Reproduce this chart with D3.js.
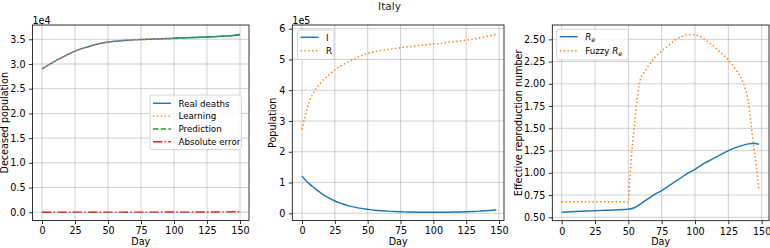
<!DOCTYPE html>
<html><head><meta charset="utf-8">
<script src="https://cdn.jsdelivr.net/npm/d3@7"></script>
<style>body{margin:0;background:#fff}svg{display:block;font-family:"DejaVu Sans",sans-serif}</style>
</head><body><svg id="c" width="770" height="248"></svg>
<script>
// ---- data ----
const title = "Italy";
const deathDays = [0,5,10,15,20,25,30,35,40,45,50,55,60,65,70,75,80,85,90,95,100,105,110,115,120,125,130,135,140,145,150];
const realDeaths = [29000,29800,30600,31300,32000,32600,33100,33500,33900,34200,34450,34600,34700,34800,34880,34950,35000,35050,35100,35150,35200,35300,35330,35360,35400,35450,35520,35600,35680,35780,35950];
const learnDays = [0,5,10,15,20,25,30,35,40,45,50,55,60,65,70,75,80,85,90,95,100];
const learning = [29000,29800,30600,31300,32000,32600,33100,33500,33900,34200,34450,34600,34700,34800,34880,34950,35000,35050,35100,35150,35200];
const predDays = [100,105,110,115,120,125,130,135,140,145,150];
const prediction = [35200,35260,35310,35360,35410,35470,35540,35620,35700,35800,35980];
const absError = [20,25,30,28,25,30,35,30,28,25,30,32,30,28,30,32,30,35,40,45,50,40,35,45,55,60,70,80,90,110,130];

const popDays = [0,2,4,6,8,10,15,20,25,30,35,40,45,50,55,60,65,70,75,80,85,90,95,100,105,110,115,120,125,130,135,140,145,148];
const infected = [1.21e5,1.11e5,1.02e5,0.94e5,0.87e5,0.80e5,0.64e5,0.51e5,0.40e5,0.32e5,0.25e5,0.20e5,0.16e5,0.13e5,0.10e5,0.085e5,0.07e5,0.06e5,0.05e5,0.045e5,0.04e5,0.035e5,0.033e5,0.032e5,0.033e5,0.035e5,0.04e5,0.045e5,0.052e5,0.06e5,0.07e5,0.085e5,0.10e5,0.115e5];
const removed = [2.72e5,3.10e5,3.42e5,3.68e5,3.86e5,4.00e5,4.28e5,4.48e5,4.66e5,4.80e5,4.92e5,5.02e5,5.12e5,5.20e5,5.25e5,5.29e5,5.32e5,5.35e5,5.38e5,5.41e5,5.43e5,5.46e5,5.48e5,5.50e5,5.52e5,5.55e5,5.57e5,5.60e5,5.63e5,5.66e5,5.70e5,5.74e5,5.79e5,5.82e5];

const reDays = [0,10,20,30,40,50,55,60,65,70,75,80,85,90,95,100,105,110,115,120,125,130,135,140,143,145,148];
const re = [0.558,0.565,0.572,0.578,0.583,0.59,0.61,0.66,0.71,0.76,0.80,0.85,0.90,0.95,1.0,1.04,1.09,1.13,1.17,1.21,1.25,1.28,1.305,1.325,1.33,1.33,1.32];
const fuzzyDays = [0,10,20,30,40,50,51,53,55,57,59,62,65,70,75,80,85,90,95,100,105,110,115,120,125,130,135,138,140,142,144,146,148];
const fuzzyRe = [0.675,0.675,0.675,0.675,0.675,0.675,0.9,1.3,1.6,1.88,2.05,2.13,2.2,2.3,2.37,2.43,2.49,2.53,2.555,2.55,2.52,2.47,2.41,2.34,2.27,2.17,2.05,1.93,1.8,1.55,1.3,1.07,0.8];

const xTicks = [0,25,50,75,100,125,150];
const yTicks1 = [0,5000,10000,15000,20000,25000,30000,35000];
const yTicks2 = [0,1e5,2e5,3e5,4e5,5e5,6e5];
const yTicks3 = [0.5,0.75,1.0,1.25,1.5,1.75,2.0,2.25,2.5];

// ---- drawing ----
const svg = d3.select("#c");
const C = {blue:"#1f77b4", orange:"#ff7f0e", green:"#2ca02c", red:"#d62728"};
const LW = 1.45;
const styles = {
  solid: null,
  dotted: "1.45,2.4",
  dashed: "5.4,2.3",
  dashdot: "9.3,2.3,1.45,2.3"
};

svg.append("text").attr("x",389.5).attr("y",9.5).attr("text-anchor","middle")
  .attr("font-size",10.5).attr("fill","#262626").text(title);

function panel(cfg){
  const x = d3.scaleLinear().domain(cfg.xd).range([cfg.l,cfg.r]);
  const y = d3.scaleLinear().domain(cfg.yd).range([cfg.b,cfg.t]);
  const g = svg.append("g");
  // grid
  g.append("g").selectAll("line").data(xTicks).join("line")
    .attr("x1",d=>x(d)).attr("x2",d=>x(d)).attr("y1",cfg.t).attr("y2",cfg.b)
    .attr("stroke","#b0b0b0").attr("stroke-opacity",0.75).attr("stroke-width",0.8);
  g.append("g").selectAll("line").data(cfg.yt).join("line")
    .attr("y1",d=>y(d)).attr("y2",d=>y(d)).attr("x1",cfg.l).attr("x2",cfg.r)
    .attr("stroke","#b0b0b0").attr("stroke-opacity",0.75).attr("stroke-width",0.8);
  // axes
  const xa = g.append("g").attr("transform",`translate(0,${cfg.b})`)
    .call(d3.axisBottom(x).tickValues(xTicks).tickSize(3.5).tickPadding(3.5).tickFormat(d3.format("d")));
  const ya = g.append("g").attr("transform",`translate(${cfg.l},0)`)
    .call(d3.axisLeft(y).tickValues(cfg.yt).tickSize(3.5).tickPadding(3.5).tickFormat(cfg.fmt));
  [xa,ya].forEach(a=>{
    a.select(".domain").remove();
    a.selectAll("line").attr("stroke","#000").attr("stroke-width",0.8);
    a.selectAll("text").attr("font-size",9.6).attr("fill","#000").attr("font-family","DejaVu Sans");
  });
  // lines
  const clip = "clip"+cfg.l.toFixed(0);
  svg.append("clipPath").attr("id",clip).append("rect")
    .attr("x",cfg.l).attr("y",cfg.t).attr("width",cfg.r-cfg.l).attr("height",cfg.b-cfg.t);
  const lg = g.append("g").attr("clip-path",`url(#${clip})`);
  cfg.series.forEach(s=>{
    const line = d3.line().x((d,i)=>x(s.days[i])).y(d=>y(d)).curve(d3.curveMonotoneX);
    lg.append("path").attr("d",line(s.vals)).attr("fill","none")
      .attr("stroke",s.color).attr("stroke-width",LW)
      .attr("stroke-dasharray",styles[s.style]);
  });
  // frame
  g.append("rect").attr("x",cfg.l).attr("y",cfg.t).attr("width",cfg.r-cfg.l).attr("height",cfg.b-cfg.t)
    .attr("fill","none").attr("stroke","#000").attr("stroke-width",0.8);
  // labels
  g.append("text").attr("x",(cfg.l+cfg.r)/2).attr("y",245).attr("text-anchor","middle")
    .attr("font-size",9.6).text("Day");
  g.append("text").attr("transform",`translate(${cfg.ylx},${(cfg.t+cfg.b)/2}) rotate(-90)`)
    .attr("text-anchor","middle").attr("font-size",9.6).text(cfg.ylabel);
  if(cfg.offset) g.append("text").attr("x",cfg.l).attr("y",23.5).attr("font-size",9.6).text(cfg.offset);
  // legend
  const L = cfg.legend;
  const lgd = g.append("g");
  lgd.append("rect").attr("x",L.x).attr("y",L.y).attr("width",L.w).attr("height",L.h).attr("rx",2)
    .attr("fill","#fff").attr("fill-opacity",0.8).attr("stroke","#cccccc").attr("stroke-width",0.8);
  cfg.series.forEach((s,i)=>{
    if(!s.label) return;
    const cy = L.y0 + i*L.dy;
    lgd.append("line").attr("x1",L.x+3).attr("x2",L.x+21).attr("y1",cy).attr("y2",cy)
      .attr("stroke",s.color).attr("stroke-width",LW).attr("stroke-dasharray",styles[s.style]);
    const t = lgd.append("text").attr("x",L.x+28.5).attr("y",cy+3.2).attr("font-size",8.7);
    s.label(t);
  });
}

const plain = str => t => t.text(str);
const reLabel = prefix => t => {
  if(prefix) t.append("tspan").text(prefix);
  t.append("tspan").attr("font-style","italic").text("R");
  t.append("tspan").attr("font-style","italic").attr("font-size",6.3).attr("dy",1.8).text("e");
};

panel({l:32.5,r:249,t:25,b:220.5,xd:[-7.2,156.8],yd:[-1660,37890],yt:yTicks1,
  fmt:d=>(d/1e4).toFixed(1),offset:"1e4",ylabel:"Deceased population",ylx:8.2,
  series:[
    {days:deathDays,vals:realDeaths,color:C.blue,style:"solid",label:plain("Real deaths")},
    {days:learnDays,vals:learning,color:C.orange,style:"dotted",label:plain("Learning")},
    {days:predDays,vals:prediction,color:C.green,style:"dashed",label:plain("Prediction")},
    {days:deathDays,vals:absError,color:C.red,style:"dashdot",label:plain("Absolute error")}
  ],
  legend:{x:150,y:95,w:91.5,h:54.5,y0:103.3,dy:12.8}});

panel({l:292.3,r:504,t:25,b:220.5,xd:[-7.4,153.8],yd:[-0.234e5,6.12e5],yt:yTicks2,
  fmt:d=>(d/1e5).toFixed(0),offset:"1e5",ylabel:"Population",ylx:275.5,
  series:[
    {days:popDays,vals:infected,color:C.blue,style:"solid",label:plain("I")},
    {days:popDays,vals:removed,color:C.orange,style:"dotted",label:plain("R")}
  ],
  legend:{x:297.5,y:30,w:36.5,h:29.5,y0:37.3,dy:13.4}});

panel({l:552.3,r:769,t:25,b:220.7,xd:[-7.05,155.5],yd:[0.462,2.661],yt:yTicks3,
  fmt:d3.format(".2f"),offset:null,ylabel:"Effective reproduction number",ylx:522,
  series:[
    {days:reDays,vals:re,color:C.blue,style:"solid",label:reLabel(null)},
    {days:fuzzyDays,vals:fuzzyRe,color:C.orange,style:"dotted",label:reLabel("Fuzzy ")}
  ],
  legend:{x:556.7,y:29.3,w:71.6,h:30.7,y0:36.7,dy:14}});
</script></body></html>
